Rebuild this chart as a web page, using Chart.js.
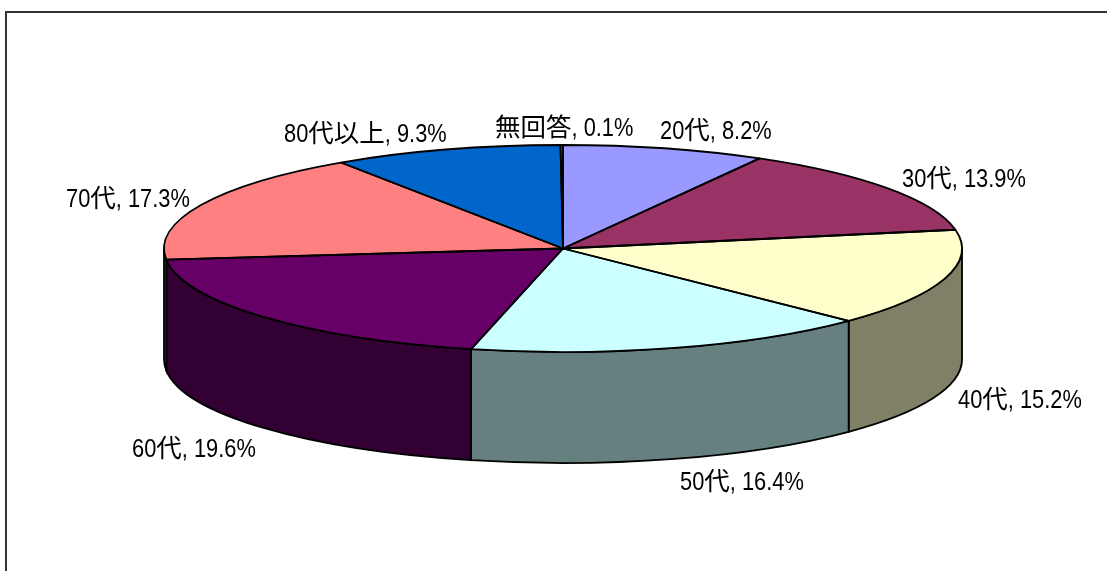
<!DOCTYPE html>
<html lang="ja">
<head>
<meta charset="utf-8">
<title>年代別 回答者の割合</title>
<script src="https://cdn.jsdelivr.net/npm/chart.js@4"></script>
<style>
  html, body { margin: 0; padding: 0; background: #fff; width: 1107px; height: 571px; overflow: hidden; }
  #frame { position: absolute; left: 5px; top: 11px; right: 0; bottom: 0; border-top: 2px solid #333; border-left: 2px solid #333; }
  #pie3d { position: absolute; left: 0; top: 0; display: block; }
</style>
</head>
<body>
<div id="frame"></div>
<canvas id="pie3d" width="1107" height="571"></canvas>
<script>
const categories = ['20代', '30代', '40代', '50代', '60代', '70代', '80代以上', '無回答'];
const percentages = [8.2, 13.9, 15.2, 16.4, 19.6, 17.3, 9.3, 0.1];
const sliceColors = ['#9999FF', '#993366', '#FFFFCC', '#CCFFFF', '#660066', '#FF8080', '#0066CC', '#CCCCFF'];
const wallColors = ['#4D4D80', '#4D1A33', '#808066', '#668080', '#330033', '#804040', '#003366', '#666680'];

// left edge + baseline of each label, same order as categories
const labelSpots = [[660, 139], [902, 187], [958, 408], [680, 490], [132, 457], [66, 207], [284, 142], [495, 136]];

const RADIUS = 399;
const SQUASH = 103.5 / 399; // flattening of the top of the pie
const DEPTH = 111;
const LATIN_FONT = '26px "Liberation Sans", Arial, sans-serif';
const CJK_FONT = '25.5px "Noto Sans CJK JP", sans-serif';
const LATIN_STRETCH = 0.84; // the original text is squeezed sideways

function slicePaths(chart) {
  return chart.getDatasetMeta(0).data;
}

// fills the visible rim (the lower half) of every slice, before the top is drawn
function drawWalls(ctx, arcs) {
  arcs.forEach((arc, i) => {
    const from = Math.max(arc.startAngle, 0);
    const to = Math.min(arc.endAngle, Math.PI);
    if (to <= from) return;
    const rx = arc.outerRadius;
    const ry = rx * SQUASH;
    ctx.beginPath();
    ctx.ellipse(arc.x, arc.y, rx, ry, 0, from, to);
    ctx.ellipse(arc.x, arc.y + DEPTH, rx, ry, 0, to, from, true);
    ctx.closePath();
    ctx.fillStyle = wallColors[i];
    ctx.fill();
    ctx.lineWidth = 1.8;
    ctx.strokeStyle = '#000';
    ctx.stroke();
  });
}

function drawOutlines(ctx, arcs) {
  ctx.lineWidth = 1.8;
  ctx.strokeStyle = '#000';
  ctx.lineJoin = 'round';
  arcs.forEach((arc) => {
    const rx = arc.outerRadius;
    ctx.beginPath();
    ctx.moveTo(arc.x, arc.y);
    ctx.ellipse(arc.x, arc.y, rx, rx * SQUASH, 0, arc.startAngle, arc.endAngle);
    ctx.closePath();
    ctx.stroke();
  });
}

// digits and kanji have different widths in the original, so draw it run by run
function drawLabel(ctx, text, x, y) {
  const runs = text.match(/[\u3000-\u9fff]+|[^\u3000-\u9fff]+/g);
  runs.forEach((run) => {
    const isCjk = /[\u3000-\u9fff]/.test(run);
    const stretch = isCjk ? 1 : LATIN_STRETCH;
    ctx.font = isCjk ? CJK_FONT : LATIN_FONT;
    ctx.save();
    ctx.translate(x, y);
    ctx.scale(stretch, 1);
    ctx.fillText(run, 0, 0);
    ctx.restore();
    x += ctx.measureText(run).width * stretch;
  });
}

const pie3dPlugin = {
  id: 'pie3d',
  beforeDatasetsDraw(chart) {
    const ctx = chart.ctx;
    const arcs = slicePaths(chart);
    ctx.save();
    drawWalls(ctx, arcs);
    ctx.restore();
    // library draws its round pie into a flattened space
    const { x, y } = arcs[0];
    ctx.save();
    ctx.translate(x, y);
    ctx.scale(1, SQUASH);
    ctx.translate(-x, -y);
  },
  afterDatasetsDraw(chart) {
    const ctx = chart.ctx;
    ctx.restore();
    ctx.save();
    drawOutlines(ctx, slicePaths(chart));
    ctx.restore();
  },
  afterDraw(chart) {
    const ctx = chart.ctx;
    ctx.save();
    ctx.fillStyle = '#000';
    ctx.textBaseline = 'alphabetic';
    categories.forEach((name, i) => {
      const [x, y] = labelSpots[i];
      drawLabel(ctx, `${name}, ${percentages[i].toFixed(1)}%`, x, y);
    });
    ctx.restore();
  }
};

function mainEvent() {
  const target = document.querySelector('#pie3d');
  new Chart(target, {
    type: 'pie',
    data: {
      labels: categories,
      datasets: [{
        data: percentages,
        backgroundColor: sliceColors,
        borderWidth: 0,
        radius: RADIUS,
        clip: false
      }]
    },
    options: {
      responsive: false,
      animation: false,
      layout: { padding: { left: 19, bottom: 74 } },
      plugins: {
        legend: { display: false },
        tooltip: { enabled: false },
        title: { display: false }
      }
    },
    plugins: [pie3dPlugin]
  });
}

document.addEventListener('DOMContentLoaded', () => mainEvent());
</script>
</body>
</html>
